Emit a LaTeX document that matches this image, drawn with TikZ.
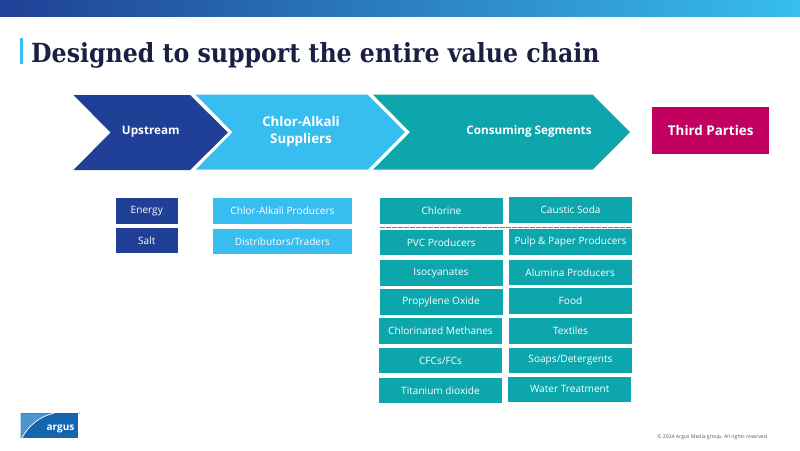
\documentclass[tikz,border=0pt]{standalone}
\usepackage{fontspec}
\setmainfont{Open Sans}
\newfontfamily\titlefont{DejaVu Serif Condensed}
\usepackage{xcolor}
\usepackage{tikz}
\definecolor{aNavy}{HTML}{1F4096}
\definecolor{aSky}{HTML}{37BDEF}
\definecolor{aTeal}{HTML}{0CA6AC}
\definecolor{aMagenta}{HTML}{C2005F}
\definecolor{inkT}{HTML}{1B1F44}
\definecolor{inkF}{HTML}{55565A}
\definecolor{logoD}{HTML}{1565AE}
\definecolor{logoL}{HTML}{4A95D2}
\tikzset{
  headlab/.style={font=\fontsize{11.7}{15}\selectfont\bfseries, text=white, align=center, inner sep=0pt},
  itembox/.style={minimum width=#1, minimum height=25.6pt, inner sep=0pt,
                  font=\fontsize{10.1}{12}\selectfont, text=white},
  navybox/.style={itembox=61.5pt, fill=aNavy},
  skybox/.style={itembox=138.4pt, fill=aSky},
  tealbox/.style={itembox=123pt, fill=aTeal},
}
\begin{document}
\begin{tikzpicture}[x=1pt,y=-1pt]
  \useasboundingbox (0,0) rectangle (800,450);
  \shade[left color=aNavy, right color=aSky] (0,0) rectangle (800,16.5);
  \fill[aSky] (20,38) rectangle (22.5,63.5);
  \node[font=\titlefont\fontsize{26.3}{30}\selectfont\bfseries, text=inkT, anchor=base west, inner sep=0pt] (title) at (31,62) {Designed to support the entire value chain};
  % chevrons
  \fill[aNavy] (73.5,95) -- (190,95) -- (228,132.5) -- (190,170) -- (73.5,170) -- (110.5,132.5) -- cycle;
  \fill[aSky] (195.7,94.7) -- (367.7,94.7) -- (405,132.2) -- (367.7,169.7) -- (195.7,169.7) -- (232.5,132.2) -- cycle;
  \fill[aTeal] (373,94.7) -- (592.7,94.7) -- (630,132.2) -- (592.7,169.7) -- (373,169.7) -- (410,132.2) -- cycle;
  \node[headlab] (upstream) at (150.8,132) {Upstream};
  \node[headlab, font=\fontsize{13.3}{16.5}\selectfont\bfseries] (suppliers) at (301,131.5) {Chlor-Alkali\\Suppliers};
  \node[headlab] (consuming) at (529,131.5) {Consuming Segments};
  \node[fill=aMagenta, minimum width=116.7pt, minimum height=47pt, inner sep=0pt, text=white, font=\fontsize{13.4}{16}\selectfont\bfseries] (third) at (710.7,130.2) {Third Parties};
  % upstream and supplier boxes
  \foreach \nm/\cx/\cy/\lab in {energy/146.8/210.7/Energy, salt/146.8/240.5/Salt}
    \node[navybox] (\nm) at (\cx,\cy) {\lab};
  \foreach \nm/\cx/\cy/\lab in {producers/282.5/210.8/{Chlor-Alkali Producers}, traders/282.5/241.5/{Distributors/Traders}}
    \node[skybox] (\nm) at (\cx,\cy) {\lab};
  % chlorine column
  \foreach \nm/\cx/\cy/\lab in {chlorine/441.5/210.8/Chlorine, pvc/441.3/242.5/PVC Producers,
                                iso/441/272.8/Isocyanates, propylene/441/302.2/Propylene Oxide,
                                methanes/440.5/331.2/Chlorinated Methanes, cfc/440.5/360.5/{CFCs/FCs},
                                titanium/440.5/390.5/Titanium dioxide}
    \node[tealbox] (\nm) at (\cx,\cy) {\lab};
  % caustic column
  \foreach \nm/\cx/\cy/\lab in {caustic/570.6/210.2/Caustic Soda, pulp/570.5/242.2/Pulp \& Paper Producers,
                                alumina/570.2/272.5/Alumina Producers, food/570.5/301.2/Food,
                                textiles/570.5/331/Textiles, soaps/570.5/360.5/{Soaps/Detergents},
                                water/569.8/389.4/Water Treatment}
    \node[tealbox] (\nm) at (\cx,\cy) {\lab};
  \draw[aTeal, thin, dash pattern=on 4.5pt off 1.5pt] (380,226.7) -- (632,226.7);
  % logo
  \fill[logoD] (20.7,413.3) rectangle (77.5,438);
  \fill[logoL] (20.7,413.3) -- (54,413.3) .. controls (40,416) and (28,426) .. (22,438) -- (20.7,438) -- cycle;
  \draw[white, line width=0.7pt] (22,438) .. controls (28,426) and (40,416) .. (54,413.3);
  \node[font=\fontsize{10}{12}\selectfont\bfseries, text=white, inner sep=0pt] (logo) at (60.5,429) {argus};
  \node[font=\fontsize{2.5}{3}\selectfont, text=logoD, inner sep=0pt] (reg) at (79.3,414) {®};
  \node[font=\fontsize{5.1}{6}\selectfont, text=inkF, anchor=base east, inner sep=0pt] (rights) at (768.5,438) {© 2024 Argus Media group. All rights reserved.};
\end{tikzpicture}
\end{document}
